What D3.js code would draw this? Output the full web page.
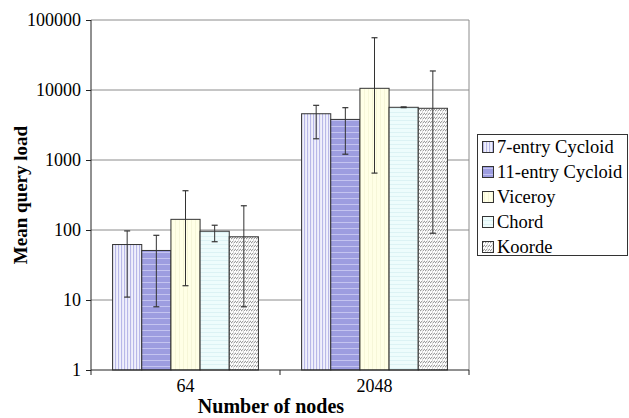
<!DOCTYPE html>
<html><head><meta charset="utf-8">
<script src="https://cdn.jsdelivr.net/npm/d3@7"></script>
<style>
html,body{margin:0;padding:0;background:#fff;}
</style></head>
<body>
<svg id="chart" width="629" height="418"></svg>
<script>
const categories = ["64", "2048"];
const seriesNames = ["7-entry Cycloid", "11-entry Cycloid", "Viceroy", "Chord", "Koorde"];
const cycloid7  = [62, 4580];
const cycloid11 = [51, 3800];
const viceroy   = [142, 10570];
const chord     = [96, 5660];
const koorde    = [80, 5480];
const errLow  = [[11, 2010], [8, 1210], [16, 650], [68, 5600], [8, 90]];
const errHigh = [[97, 6040], [84, 5590], [364, 55800], [117, 5740], [222, 18700]];
const yTicks = [1, 10, 100, 1000, 10000, 100000];

const values = [cycloid7, cycloid11, viceroy, chord, koorde];
const patIds = ["p7", "p11", "pvic", "pchord", "pkoorde"];
const FONT = "Liberation Serif";

const svg = d3.select("#chart");
const defs = svg.append("defs");

function pat(id, w, h, bg, draw) {
  const p = defs.append("pattern").attr("id", id).attr("patternUnits", "userSpaceOnUse")
    .attr("width", w).attr("height", h);
  p.append("rect").attr("width", w).attr("height", h).attr("fill", bg);
  draw(p);
}
pat("p7", 3, 4, "#f0f0fc", p => p.append("rect").attr("x", 0).attr("width", 1.1).attr("height", 4).attr("fill", "#b8b8e8"));
pat("p11", 4, 6, "#9d9de0", p => p.append("rect").attr("y", 0).attr("width", 4).attr("height", 1).attr("fill", "#c4c4f0"));
pat("pvic", 4, 4, "#ffffe6", p => p.append("rect").attr("x", 0).attr("width", 1).attr("height", 4).attr("fill", "#f6f6d8"));
pat("pchord", 4, 4, "#eefcfc", p => p.append("rect").attr("y", 0).attr("width", 4).attr("height", 1).attr("fill", "#dcf2f4"));
pat("pkoorde", 5, 4, "#ffffff", p => {
  p.append("path").attr("d", "M0,3.2 L2.5,0.8 M2.5,3.2 L5,0.8").attr("fill", "none")
    .attr("stroke", "#707070").attr("stroke-width", 0.9);
});

const pL = 91, pR = 469, pT = 20, pB = 370;
const x0 = d3.scaleBand().domain(categories).range([pL, pR]).padding(0);
const x1 = d3.scaleBand().domain(seriesNames).range([0, x0.bandwidth()]).paddingInner(0).paddingOuter(0.74);
const y = d3.scaleLog().domain([1, 100000]).range([pB, pT]);

svg.append("g").selectAll("line").data(yTicks.slice(1)).join("line")
  .attr("x1", pL).attr("x2", pR).attr("y1", d => y(d)).attr("y2", d => y(d))
  .attr("stroke", "#8c8c8c").attr("stroke-width", 1);
svg.append("line").attr("x1", pR).attr("x2", pR).attr("y1", pT).attr("y2", pB)
  .attr("stroke", "#8c8c8c");

const groups = svg.append("g").selectAll("g").data(categories).join("g")
  .attr("transform", d => `translate(${x0(d)},0)`);
seriesNames.forEach((s, si) => {
  groups.append("rect")
    .attr("x", x1(s)).attr("width", x1.bandwidth())
    .attr("y", (d, ci) => y(values[si][ci]))
    .attr("height", (d, ci) => pB - y(values[si][ci]))
    .attr("fill", `url(#${patIds[si]})`)
    .attr("stroke", "#333").attr("stroke-width", 1);
});
seriesNames.forEach((s, si) => {
  groups.each(function(d, ci) {
    const g = d3.select(this);
    const cx = x1(s) + x1.bandwidth() / 2;
    const lo = y(errLow[si][ci]), hi = y(errHigh[si][ci]);
    g.append("line").attr("x1", cx).attr("x2", cx).attr("y1", lo).attr("y2", hi).attr("stroke", "#333").attr("stroke-width", 1);
    [lo, hi].forEach(yy => g.append("line").attr("x1", cx - 3).attr("x2", cx + 3).attr("y1", yy).attr("y2", yy).attr("stroke", "#333").attr("stroke-width", 1.2));
  });
});

const yAxis = d3.axisLeft(y).tickValues(yTicks).tickFormat(d3.format("d")).tickSize(5).tickPadding(5);
const ya = svg.append("g").attr("transform", `translate(${pL},0)`).call(yAxis);
ya.select(".domain").attr("stroke", "#222").attr("d", `M0,${pT}V${pB}`);
ya.selectAll(".tick line").attr("stroke", "#222");
ya.selectAll("text").attr("font-family", FONT).attr("font-size", 18).attr("fill", "#000");

const xa = svg.append("g").attr("transform", `translate(0,${pB})`)
  .call(d3.axisBottom(x0).tickSize(0).tickPadding(9));
xa.select(".domain").attr("stroke", "#222").attr("d", `M${pL},0H${pR}`);
xa.selectAll("text").attr("font-family", FONT).attr("font-size", 18).attr("fill", "#000");
const bounds = [x0(categories[0]), x0(categories[1]), x0(categories[1]) + x0.bandwidth()];
svg.append("g").selectAll("line").data(bounds).join("line")
  .attr("x1", d => d).attr("x2", d => d).attr("y1", pB).attr("y2", pB + 5).attr("stroke", "#222");

svg.append("text").attr("x", 271).attr("y", 413).attr("text-anchor", "middle").attr("font-family", FONT)
  .attr("font-weight", "bold").attr("font-size", 20).attr("fill", "#000").text("Number of nodes");
svg.append("text").attr("transform", "translate(27,195) rotate(-90)").attr("text-anchor", "middle").attr("font-family", FONT)
  .attr("font-weight", "bold").attr("font-size", 19).attr("fill", "#000").text("Mean query load");

const lg = svg.append("g");
lg.append("rect").attr("x", 477.5).attr("y", 134.5).attr("width", 150).attr("height", 121)
  .attr("fill", "#fff").attr("stroke", "#333").attr("stroke-width", 1);
const ly = d3.scalePoint().domain(seriesNames).range([147, 247]);
seriesNames.forEach((s, si) => {
  lg.append("rect").attr("x", 482.5).attr("y", ly(s) - 5.5).attr("width", 11).attr("height", 11)
    .attr("fill", `url(#${patIds[si]})`).attr("stroke", "#333");
  lg.append("text").attr("x", 497).attr("y", ly(s)).attr("dy", "0.35em").attr("font-family", FONT)
    .attr("font-size", 18.5).attr("fill", "#000").text(s);
});
</script>
</body></html>
